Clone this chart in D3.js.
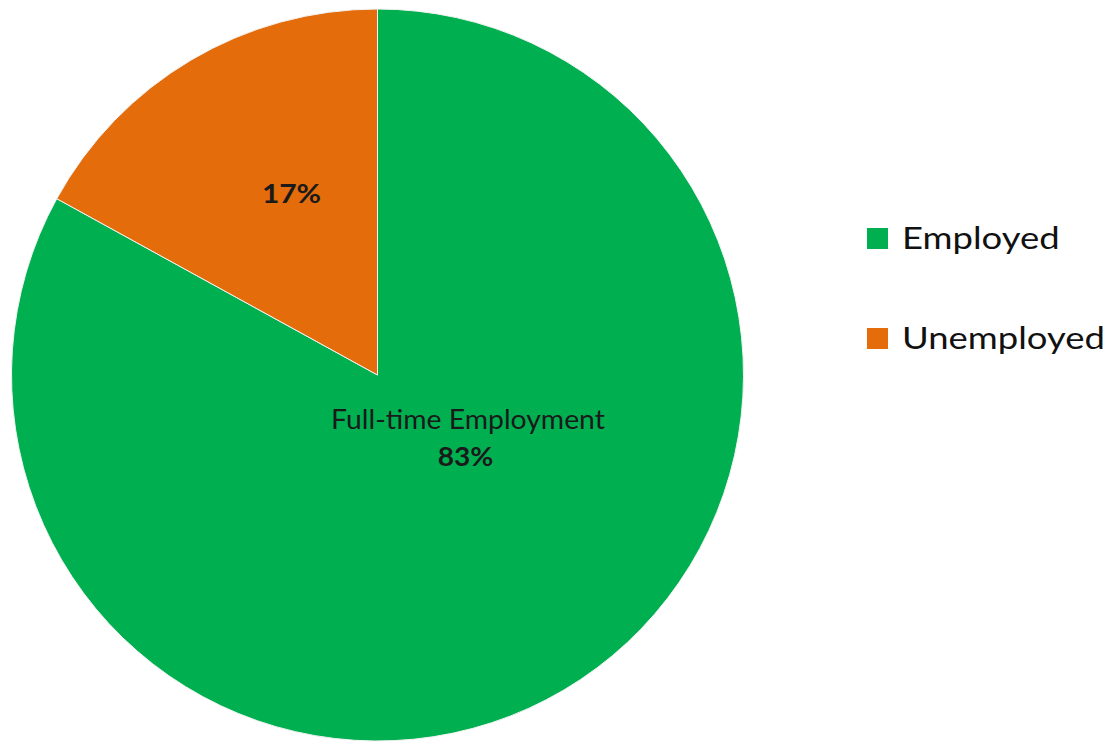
<!DOCTYPE html>
<html><head><meta charset="utf-8">
<script src="https://cdn.jsdelivr.net/npm/d3@7"></script>
<style>html,body{margin:0;padding:0;background:#fff;}svg{display:block;}</style>
</head><body>
<svg id="chart" width="1116" height="744"></svg>
<script>
const categories = ["Employed", "Unemployed"];
const values = [83, 17];
const colors = ["#00B050", "#E46C0A"];
const sliceLabels = ["Full-time Employment", ""];
const pctLabels = ["83%", "17%"];

const svg = d3.select("#chart");
const cx = 377.5, cy = 375, r = 366;
const g = svg.append("g").attr("transform", `translate(${cx},${cy})`);
const data = categories.map((c, i) => ({cat: c, value: values[i], color: colors[i], label: sliceLabels[i], pct: pctLabels[i]}));
const pie = d3.pie().sort(null).value(d => d.value);
const arc = d3.arc().innerRadius(0).outerRadius(r);
const arcs = pie(data);
g.selectAll("path").data(arcs).join("path")
  .attr("d", arc).attr("fill", d => d.data.color)
  .attr("stroke", "#f2f2f2").attr("stroke-width", 1);

const font = "Lato, 'Open Sans', sans-serif";
// stretch text horizontally to match reference glyph widths
function stretch(sel, sx) {
  const w = sel.node().getComputedTextLength();
  sel.attr("textLength", w * sx).attr("lengthAdjust", "spacingAndGlyphs");
}
arcs.forEach((a, i) => {
  let [x, y] = i === 0 ? [90.5, 54] : [-86, -172];
  if (a.data.label) {
    const t1 = g.append("text").attr("x", x).attr("y", y).attr("text-anchor", "middle")
      .attr("font-family", font).attr("font-size", 26).attr("fill", "#1a1a1a")
      .text(a.data.label);
    stretch(t1, 1.09);
    const t2 = g.append("text").attr("x", x - 2.5).attr("y", y + 37).attr("text-anchor", "middle")
      .attr("font-family", font).attr("font-size", 26).attr("font-weight", "bold").attr("fill", "#1a1a1a")
      .text(a.data.pct);
    stretch(t2, 1.08);
  } else {
    const t = g.append("text").attr("x", x).attr("y", y).attr("text-anchor", "middle")
      .attr("font-family", font).attr("font-size", 26).attr("font-weight", "bold").attr("fill", "#1a1a1a")
      .text(a.data.pct);
    stretch(t, 1.15);
  }
});

const legend = svg.append("g").attr("transform", "translate(867,228)");
const ly = d3.scalePoint().domain(categories).range([0, 100]);
const items = legend.selectAll("g").data(data).join("g").attr("transform", d => `translate(0,${ly(d.cat)})`);
items.append("rect").attr("width", 21).attr("height", 21).attr("fill", d => d.color);
items.append("text").attr("x", 35).attr("y", 20.5).attr("font-family", font).attr("font-size", 30).attr("fill", "#111")
  .text(d => d.cat)
  .each(function() { stretch(d3.select(this), 1.215); });
</script>
</body></html>
